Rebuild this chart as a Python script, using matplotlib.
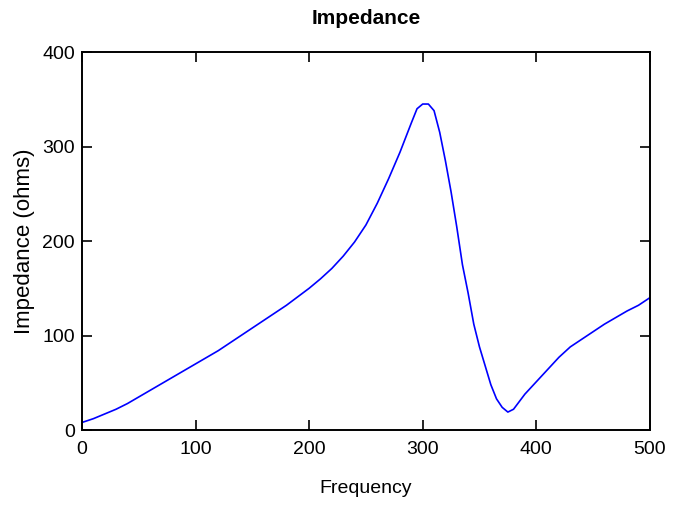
import matplotlib
matplotlib.use("Agg")
import matplotlib.pyplot as plt

freq = [0, 10, 20, 30, 40, 50, 60, 70, 80, 90, 100, 110, 120, 130, 140,
        150, 160, 170, 180, 190, 200, 210, 220, 230, 240, 250, 260, 270,
        280, 290, 295, 300, 305, 310, 315, 320, 325, 330, 335, 340, 345,
        350, 355, 360, 365, 370, 375, 380, 385, 390, 400, 410, 420, 430,
        440, 450, 460, 470, 480, 490, 500]
impedance = [8, 12, 17, 22, 28, 35, 42, 49, 56, 63, 70, 77, 84, 92, 100,
             108, 116, 124, 132, 141, 150, 160, 171, 184, 199, 217, 240, 266,
             294, 325, 340, 345, 345, 338, 315, 285, 252, 215, 175, 145, 112,
             88, 68, 48, 33, 24, 19, 22, 30, 38, 51, 64, 77, 88,
             96, 104, 112, 119, 126, 132, 140]

font = ["Liberation Sans", "DejaVu Sans"]
plt.rcParams["font.family"] = font

fig = plt.figure(figsize=(6.8, 5.08), dpi=100)
ax = fig.add_axes([0.1206, 0.1535, 0.835, 0.744])

ax.plot(freq, impedance, color="#0000ff", lw=1.2)

ax.set_xlim(0, 500)
ax.set_ylim(0, 400)
ax.set_xticks([0, 100, 200, 300, 400, 500])
ax.set_yticks([0, 100, 200, 300, 400])

for s in ax.spines.values():
    s.set_linewidth(1.4)
ax.tick_params(direction="in", length=7, width=1.2, top=True, right=True,
               labelsize=14)
ax.tick_params(axis="x", pad=8)
ax.tick_params(axis="y", pad=5)

ax.set_title("Impedance", fontsize=15, fontweight="bold", pad=20)
ax.set_xlabel("Frequency", fontsize=14, labelpad=16)
ax.set_ylabel("Impedance (ohms)", fontsize=16, labelpad=5)

fig.savefig("out.png", dpi=100)
